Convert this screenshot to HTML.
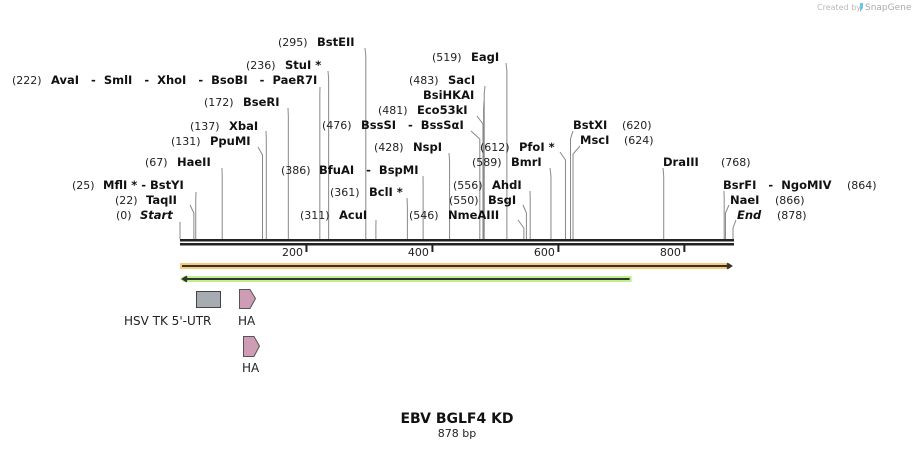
<!DOCTYPE html>
<html><head><meta charset="utf-8">
<style>
body{margin:0;background:#fff;width:914px;height:449px;overflow:hidden}
svg{display:block;font-family:"DejaVu Sans","Liberation Sans",sans-serif}
svg text{white-space:pre}
.n{font-size:11px;fill:#222}
.b{font-size:11.5px;font-weight:bold;fill:#111}
.ln{stroke:#888;stroke-width:1;fill:none}
</style></head><body>
<svg id="map" width="914" height="449" viewBox="0 0 914 449">
<text x="817" y="10" font-size="8" fill="#bbb">Created by</text>
<path d="M858 3 h5 v5 l-3 4 v-9z" fill="#6cc3f0"/>
<text x="865" y="10" font-size="9" fill="#aaa">SnapGene</text>
<g id="sites"></g>
<g id="axis"></g>
<g id="features"></g>
<text x="457" y="423" text-anchor="middle" font-size="14" font-weight="bold" fill="#111">EBV BGLF4 KD</text>
<text x="457" y="437" text-anchor="middle" font-size="11" fill="#222">878 bp</text>
</svg>
<script>
const seqLen = 878;
const siteBp = [0,22,25,67,131,137,172,222,236,295,311,361,386,428,476,481,482,483,519,546,550,556,589,612,620,624,768,864,866,878];
const siteNames = ["Start","TaqII","MflI * - BstYI","HaeII","PpuMI","XbaI","BseRI","AvaI   -  SmlI   -  XhoI   -  BsoBI   -  PaeR7I","StuI *","BstEII","AcuI","BclI *","BfuAI   -  BspMI","NspI","BssSI   -  BssSαI","Eco53kI","BsiHKAI","SacI","EagI","NmeAIII","BsgI","AhdI","BmrI","PfoI *","BstXI","MscI","DraIII","BsrFI   -  NgoMIV","NaeI","End"];
const siteNumLabels = ["(0)","(22)","(25)","(67)","(131)","(137)","(172)","(222)","(236)","(295)","(311)","(361)","(386)","(428)","(476)","(481)","","(483)","(519)","(546)","(550)","(556)","(589)","(612)","(620)","(624)","(768)","(864)","(866)","(878)"];
const tickVals = [200,400,600,800];
// layout: [numX, nameX, textY, topX, topY]
const layout = [[116,140,219,180,222],[115,146,204,190,205],[72,103,189,196,192],[145,177,166,222,168],[171,210,145,258,147],[190,229,130,266,131],[204,243,106,288,108],[12,51,84,320,87],[246,285,69,328,71],[278,317,46,365,48],[300,339,219,376,220],[330,369,196,407,198],[281,319,174,423,176],[374,413,151,449,153],[322,361,129,471,131],[378,417,114,477,116],[0,423,99,484,101],[409,448,84,485,86],[432,471,61,506,63],[409,448,219,518,220],[449,488,204,523,205],[453,492,189,530,191],[472,511,166,550,168],[480,519,151,560,152],[622,573,129,573,131],[624,580,144,580,146],[721,663,166,663,168],[847,723,189,724,191],[775,730,204,729,205],[777,737,219,736,220]];
const X0=180, X1=733;
function xs(bp){return X0+bp*(X1-X0)/seqLen;}
const NS="http://www.w3.org/2000/svg";
function mk(t,a,p){const e=document.createElementNS(NS,t);for(const k in a)e.setAttribute(k,a[k]);p.appendChild(e);return e;}
const sites=document.getElementById('sites');
siteBp.forEach((bp,i)=>{
  const L=layout[i];const x=xs(bp);
  const ln=mk('path',{d:`M${x} 239 L${x} ${Math.min(228,L[4]+8)} L${L[3]} ${L[4]}`,class:'ln'},sites);
  
  
  if(siteNumLabels[i]){
    const t=mk('text',{x:L[0],y:L[2],class:'n'},sites);t.textContent=siteNumLabels[i];
    
    
  }
  const nm=mk('text',{x:L[1],y:L[2],class:'b'},sites);nm.textContent=siteNames[i];
  if(i===0||i===siteBp.length-1)nm.setAttribute('font-style','italic');
  
  
});
const ax=document.getElementById('axis');
let r=mk('rect',{x:X0,y:239,width:X1-X0+1,height:2.5,fill:'#222'},ax);


r=mk('rect',{x:X0,y:243,width:X1-X0+1,height:2.5,fill:'#222'},ax);


tickVals.forEach(v=>{
  const x=xs(v);
  const tk=mk('rect',{x:x-0.5,y:245,width:2,height:7,fill:'#222'},ax);
  
  
  const t=mk('text',{x:x-3,y:256,'text-anchor':'end',class:'n'},ax);t.textContent=v;
  
  
});
const f=document.getElementById('features');
let e=mk('path',{d:`M${X0} 263 H${X1-4} l4 3 l-4 3 H${X0}z`,fill:'#f9c97a'},f);


e=mk('path',{d:`M${X0+2} 266 H${X1-2} M${X1-6} 263.5 L${X1-2} 266 L${X1-6} 268.5`,stroke:'#333','stroke-width':2,fill:'none'},f);


const gEnd=xs(717);
e=mk('path',{d:`M${X0+4} 276 H${gEnd} V282 H${X0+4} l-4 -3z`,fill:'#bdf28a'},f);


e=mk('path',{d:`M${X0+3} 279 H${gEnd-2} M${X0+7} 276.5 L${X0+3} 279 L${X0+7} 281.5`,stroke:'#333','stroke-width':2,fill:'none'},f);


e=mk('rect',{x:196.5,y:291.5,width:24,height:16,fill:'#a7acb2',stroke:'#444'},f);


e=mk('text',{x:124,y:325,'font-size':12,fill:'#222'},f);e.textContent="HSV TK 5'-UTR";


e=mk('path',{d:'M239.5 289.5 H250 L255.5 298.5 L250 308.5 H239.5z',fill:'#cf9cb5',stroke:'#555'},f);


e=mk('text',{x:238,y:325,'font-size':12,fill:'#222'},f);e.textContent="HA";


e=mk('path',{d:'M243.5 336.5 H254 L259.5 346 L254 356.5 H243.5z',fill:'#cf9cb5',stroke:'#555'},f);


e=mk('text',{x:242,y:372,'font-size':12,fill:'#222'},f);e.textContent="HA";


</script>
</body></html>
